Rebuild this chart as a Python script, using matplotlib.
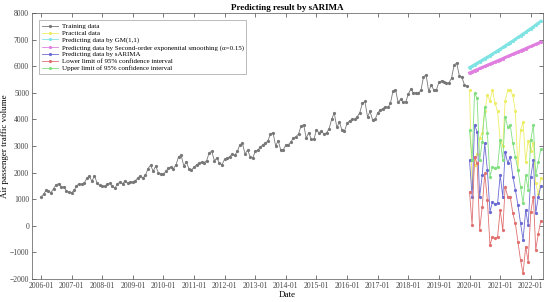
import matplotlib

matplotlib.use("Agg")
import matplotlib.dates as mdates
import matplotlib.pyplot as plt
import pandas as pd

plt.rcParams["font.family"] = ["Liberation Serif", "DejaVu Serif"]

# monthly training data, 2006-01 .. 2019-12
training = [
    1090, 1180, 1330, 1300, 1250, 1400, 1550, 1580, 1450, 1460, 1320, 1260,
    1250, 1330, 1500, 1580, 1560, 1600, 1780, 1860, 1680, 1880, 1620, 1520,
    1500, 1480, 1560, 1600, 1480, 1420, 1560, 1660, 1580, 1700, 1600, 1650,
    1650, 1700, 1800, 1880, 1800, 1900, 2150, 2280, 2050, 2250, 2000, 1950,
    1950, 2050, 2180, 2200, 2150, 2300, 2600, 2650, 2250, 2400, 2150, 2100,
    2200, 2300, 2350, 2400, 2380, 2450, 2750, 2800, 2450, 2550, 2350, 2300,
    2500, 2550, 2600, 2700, 2650, 2800, 3050, 3100, 2700, 2850, 2600, 2550,
    2800, 2850, 2950, 3050, 3100, 3200, 3450, 3500, 3000, 3200, 2850, 2850,
    3050, 3050, 3150, 3300, 3350, 3450, 3750, 3800, 3300, 3500, 3250, 3250,
    3600, 3500, 3550, 3450, 3500, 3650, 4000, 4250, 3700, 3900, 3600, 3550,
    3850, 3950, 4000, 4000, 4100, 4250, 4600, 4680, 4100, 4300, 3980, 4000,
    4250, 4350, 4400, 4480, 4450, 4600, 5050, 5120, 4650, 4750, 4650, 4650,
    4950, 5150, 5000, 5000, 4980, 5100, 5600, 5680, 5050, 5300, 5100, 5100,
    5400, 5450, 5400, 5350, 5380, 5550, 6050, 6120, 5650, 5600, 5300, 5250,
]

# monthly data, 2020-01 .. 2022-05
practical = [5100, 1450, 2300, 2700, 3300, 3500, 4300, 4900, 4700, 5100,
             4600, 4300, 3200, 3000, 4700, 5100, 5100, 4900, 4300, 2100,
             3600, 3900, 2400, 3200, 2800, 3100, 1600, 1200, 1800]
gm11 = [5950, 6005, 6060, 6115, 6172, 6229, 6286, 6344, 6402, 6461,
        6521, 6581, 6642, 6703, 6765, 6827, 6890, 6954, 7018, 7083,
        7148, 7214, 7280, 7347, 7415, 7484, 7553, 7622, 7692]
smoothing = [5750, 5791, 5833, 5874, 5916, 5957, 5999, 6040, 6082, 6123,
             6165, 6206, 6248, 6289, 6331, 6372, 6414, 6455, 6497, 6538,
             6580, 6621, 6663, 6704, 6746, 6787, 6829, 6870, 6912]
sarima = [2470, 1090, 3790, 3540, 1090, 1910, 3100, 2100, 530, 900,
          820, 850, 1910, 1090, 2790, 2350, 2600, 1850, 1350, 780,
          90, -530, 590, 30, 1850, 2470, 470, 1090, 1500]
upper = [3600, 2470, 4980, 4790, 2470, 3160, 4480, 3480, 1850, 2220,
         2160, 2220, 3230, 2470, 4100, 3720, 3790, 3100, 2600, 2100,
         1470, 850, 1910, 1350, 3230, 3800, 1900, 2400, 2900]
lower = [1280, 30, 2600, 2350, -160, 720, 1970, 970, -720, -410,
         -470, -410, 590, -160, 1470, 1090, 1090, 470, 90, -600,
         -1290, -1790, -780, -1350, 530, 1100, -900, -300, 200]

train_dates = pd.date_range("2006-01-01", periods=len(training), freq="MS")
pred_dates = pd.date_range("2020-01-01", periods=len(practical), freq="MS")

fig = plt.figure(figsize=(5.5, 3.02), dpi=100)
ax = fig.add_axes([0.058, 0.076, 0.929, 0.881])

mk = dict(marker="o", markersize=1.3, linewidth=0.6)
ax.plot(train_dates, training, color="#777777", label="Training data", **mk)
ax.plot(pred_dates, practical, color="#eeee66", label="Practical data", **mk)
# thick trend lines drawn first, thin copies carry the legend entries
ax.plot(pred_dates, gm11, color="#7fe3e3", linewidth=2.0)
ax.plot(pred_dates, gm11, color="#7fe3e3", label="Predicting data by GM(1,1)", **mk)
ax.plot(pred_dates, smoothing, color="#e07fe0", linewidth=2.0)
ax.plot(pred_dates, smoothing, color="#e07fe0",
        label="Predicting data by Second-order exponential smoothing (\u03b1=0.15)", **mk)
ax.plot(pred_dates, sarima, color="#6a6ad2", label="Predicting data by sARIMA", **mk)
ax.plot(pred_dates, lower, color="#e07070", label="Lower limit of 95% confidence interval", **mk)
ax.plot(pred_dates, upper, color="#80e080", label="Upper limit of 95% confidence interval", **mk)

ax.set_xlim(pd.Timestamp("2005-09-15"), pd.Timestamp("2022-05-25"))
ax.set_ylim(-2000, 8000)
ax.set_yticks(range(-2000, 8001, 1000))
ax.xaxis.set_major_locator(mdates.YearLocator())
ax.xaxis.set_major_formatter(mdates.DateFormatter("%Y-%m"))
ax.tick_params(direction="in", labelsize=5.5, length=3, width=0.5, pad=2,
               top=True, right=True, colors="#444444")
for s in ax.spines.values():
    s.set_linewidth(0.5)
    s.set_color("#555555")

ax.set_title("Predicting result by sARIMA", fontsize=6.5, fontweight="bold", pad=2)
ax.set_xlabel("Date", fontsize=6.5, labelpad=1)
ax.set_ylabel("Air passenger traffic volume", fontsize=6.5)
ax.yaxis.set_label_coords(-0.045, 0.5)

leg = ax.legend(loc="upper left", bbox_to_anchor=(0.008, 0.985), fontsize=5,
                frameon=True, fancybox=False, edgecolor="#888888",
                handlelength=2.2, labelspacing=0.15, borderpad=0.4, handletextpad=0.6)
leg.get_frame().set_linewidth(0.5)

fig.savefig("out.png", dpi=100)
